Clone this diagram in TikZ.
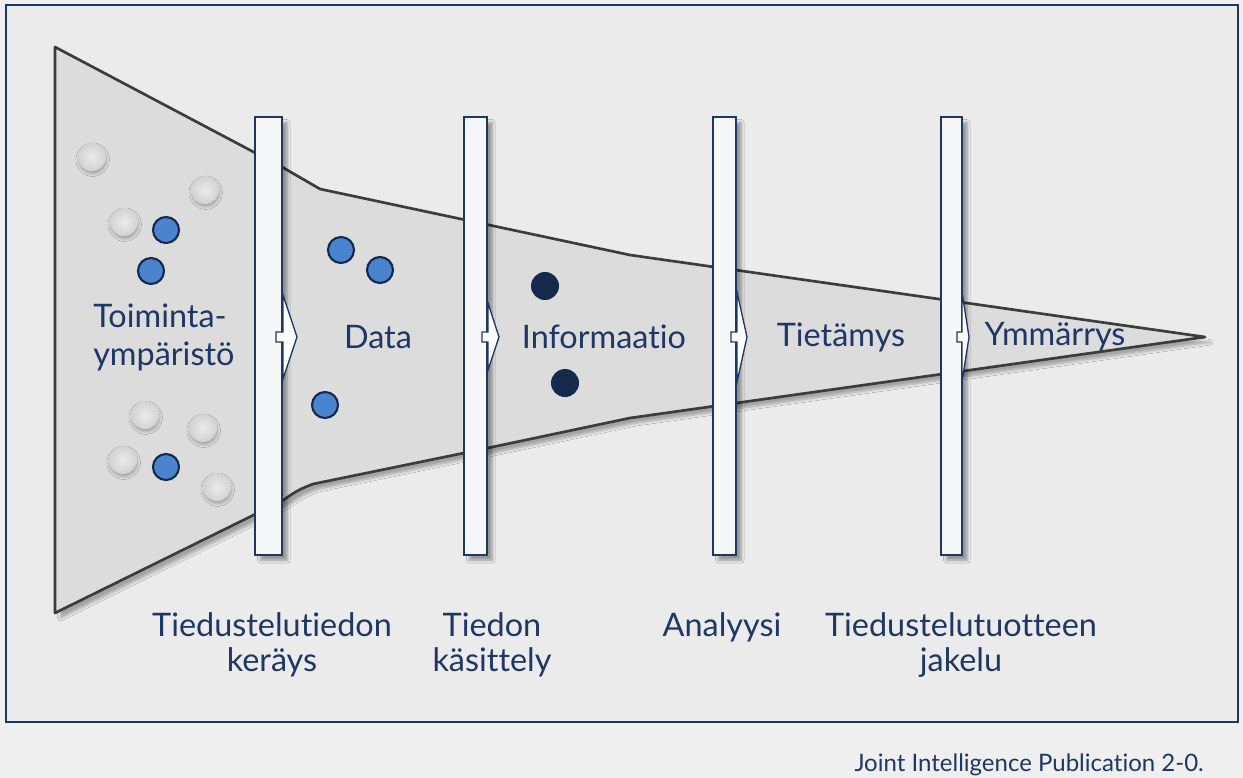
\documentclass[tikz,border=0pt]{standalone}
\usepackage{fontspec}
\setmainfont{Lato}[Ligatures=NoCommon]
\usetikzlibrary{shadows,shadows.blur}
\definecolor{navy}{HTML}{1F3764}
\definecolor{bgc}{HTML}{EBEBEB}
\definecolor{outer}{HTML}{EFEFEF}
\definecolor{funfill}{HTML}{DCDCDC}
\definecolor{funline}{HTML}{3C3C3C}
\definecolor{bluec}{HTML}{4A84CF}
\definecolor{darkc}{HTML}{15294C}
\definecolor{barfill}{HTML}{F6F7F9}
\definecolor{dotin}{HTML}{EBEBEB}
\definecolor{dotout}{HTML}{D2D2D2}
\tikzset{
  bar/.style={draw=navy, line width=1.4pt, fill=barfill, inner sep=0pt, outer sep=0pt,
    minimum width=#1, minimum height=328.5pt,
    blur shadow={shadow xshift=4pt, shadow yshift=-4pt, shadow blur steps=6, shadow opacity=35}},
  chev/.style={draw=navy, line width=1pt, fill=white, line join=miter},
  graydot/.style={circle, minimum size=21pt, inner sep=0pt, inner color=dotin, outer color=dotout,
    blur shadow={shadow xshift=0.5pt, shadow yshift=-2pt, shadow blur steps=4, shadow opacity=25}},
  bluedot/.style={circle, minimum size=19.5pt, inner sep=0pt, fill=bluec, draw=darkc, line width=1.6pt},
  darkdot/.style={circle, minimum size=21pt, inner sep=0pt, fill=darkc},
  lbl/.style={text=navy, font=\fontsize{24.3pt}{28.5pt}\selectfont, inner sep=0pt},
  blbl/.style={text=navy, font=\fontsize{24.3pt}{26.5pt}\selectfont, inner sep=0pt, align=center},
}
\begin{document}
\begin{tikzpicture}[x=0.75pt, y=-0.75pt]
\useasboundingbox (0,0) rectangle (1243,778);
\fill[outer] (0,0) rectangle (1243,778);
\draw[navy, line width=1.5pt, fill=bgc] (6,5) rectangle (1238,722);
% funnel
\draw[funline, line width=2pt, fill=funfill, line join=round,
  blur shadow={shadow xshift=4pt, shadow yshift=-4pt, shadow blur steps=6, shadow opacity=30}]
  (55,47) -- (282,167) .. controls (300,178) .. (320,189) -- (630,255) -- (1205,337)
  -- (630,418) -- (464,453) -- (313,484) .. controls (298,490) .. (282,501) -- (55,613) -- cycle;
% dots
\node[graydot] (g1) at (92,157) {};
\node[graydot] (g2) at (205,190) {};
\node[graydot] (g3) at (124,222) {};
\node[bluedot] (c1) at (166,230) {};
\node[bluedot] (c2) at (151,271) {};
\node[graydot] (g4) at (145,415) {};
\node[graydot] (g5) at (203,428) {};
\node[graydot] (g6) at (123,460) {};
\node[graydot] (g7) at (217,487) {};
\node[bluedot] (c3) at (166,467) {};
\node[bluedot] (c4) at (341,250) {};
\node[bluedot] (c5) at (380,270) {};
\node[bluedot] (c6) at (325,405) {};
\node[darkdot] (d1) at (545,286) {};
\node[darkdot] (d2) at (565,383) {};
% bars
\node[bar=20.25pt] (b1) at (268.5,336) {};
\node[bar=17.25pt] (b2) at (475.5,336) {};
\node[bar=17.25pt] (b3) at (724.5,336) {};
\node[bar=15.75pt] (b4) at (951.5,336) {};
% chevrons
\draw[chev] (276,332) -- (283,332) -- (283,295) -- (297,337) -- (283,379) -- (283,342) -- (276,342) -- cycle;
\draw[chev] (482,332) -- (488,332) -- (488,303) -- (499,337) -- (488,370) -- (488,342) -- (482,342) -- cycle;
\draw[chev] (731,332) -- (737,332) -- (737,292) -- (747,337) -- (737,382) -- (737,342) -- (731,342) -- cycle;
\draw[chev] (957,332) -- (962,332) -- (962,292) -- (969,337) -- (962,382) -- (962,342) -- (957,342) -- cycle;
% labels
\node[lbl, anchor=west, align=left] (t0) at (93,337) {Toiminta-\\ympäristö};
\node[lbl] (t1) at (378,337) {Data};
\node[lbl] (t2) at (604,337) {Informaatio};
\node[lbl] (t3) at (841,337) {Tietämys};
\node[lbl] (t4) at (1055,337) {Ymmärrys};
\node[blbl] (s1) at (272,645) {Tiedustelutiedon\\keräys};
\node[blbl] (s2) at (492,645) {Tiedon\\käsittely};
\node[blbl] (s3) at (722,627) {Analyysi};
\node[blbl] (s4) at (961,645) {Tiedustelutuotteen\\jakelu};
\node[text=navy, font=\fontsize{18pt}{21pt}\selectfont, anchor=east, inner sep=0pt] (ft) at (1204,765) {Joint Intelligence Publication 2-0.};
\end{tikzpicture}
\end{document}
